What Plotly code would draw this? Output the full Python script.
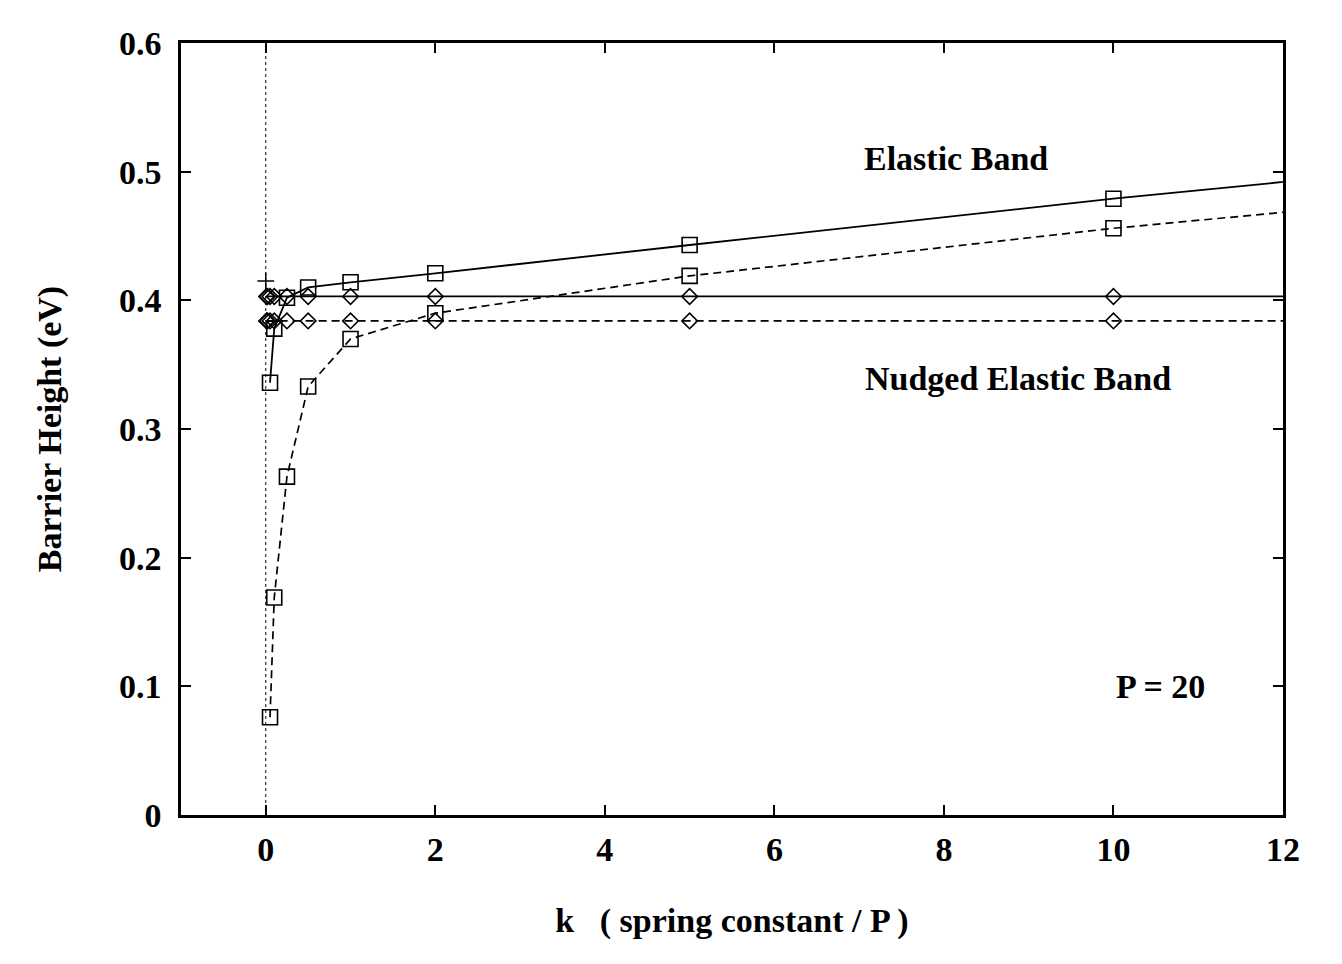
import plotly.graph_objects as go

# spring constant k (per image P) and barrier heights in eV
k_sq = [0.05, 0.1, 0.25, 0.5, 1, 2, 5, 10, 20]
eb_solid = [0.336, 0.378, 0.402, 0.410, 0.414, 0.421, 0.443, 0.479, 0.544]
eb_dashed = [0.076, 0.169, 0.263, 0.333, 0.370, 0.390, 0.419, 0.456, 0.518]

k_dm = [0.01, 0.02, 0.05, 0.1, 0.25, 0.5, 1, 2, 5, 10, 20]
neb_solid = [0.403, 0.403, 0.403, 0.403, 0.403, 0.403, 0.403, 0.403, 0.403, 0.403, 0.403]
neb_dashed = [0.384, 0.384, 0.384, 0.384, 0.384, 0.384, 0.384, 0.384, 0.384, 0.384, 0.384]

k_plus = [0.0]
plus_val = [0.415]

serif = "Liberation Serif"
dash = "8px,5px"

fig = go.Figure()

fig.add_trace(go.Scatter(x=k_sq, y=eb_solid, mode="lines+markers",
                         line=dict(color="black", width=1.8),
                         marker=dict(symbol="square-open", size=15, color="black",
                                     line=dict(width=1.6))))
fig.add_trace(go.Scatter(x=k_sq, y=eb_dashed, mode="lines+markers",
                         line=dict(color="black", width=1.7, dash=dash),
                         marker=dict(symbol="square-open", size=15, color="black",
                                     line=dict(width=1.6))))
fig.add_trace(go.Scatter(x=k_dm, y=neb_solid, mode="lines+markers",
                         line=dict(color="black", width=1.8),
                         marker=dict(symbol="diamond-open", size=12, color="black",
                                     line=dict(width=1.6))))
fig.add_trace(go.Scatter(x=k_dm, y=neb_dashed, mode="lines+markers",
                         line=dict(color="black", width=1.7, dash=dash),
                         marker=dict(symbol="diamond-open", size=12, color="black",
                                     line=dict(width=1.6))))
fig.add_trace(go.Scatter(x=k_plus, y=plus_val, mode="markers",
                         marker=dict(symbol="cross-thin-open", size=12, color="black",
                                     line=dict(width=1.5, color="black"))))

# dotted zero line
fig.add_shape(type="line", x0=0, x1=0, y0=0, y1=1, xref="x", yref="paper",
              line=dict(color="black", width=1, dash="dot"), layer="below")

lbl = dict(family=serif, size=34, color="black", weight="bold")
fig.add_annotation(x=8.14, y=0.5105, text="Elastic Band", showarrow=False, font=lbl)
fig.add_annotation(x=8.87, y=0.3395, text="Nudged Elastic Band", showarrow=False, font=lbl)
fig.add_annotation(x=10.56, y=0.0995, text="P = 20", showarrow=False, font=lbl)

axis_font = dict(family=serif, size=34, color="black", weight="bold")
fig.update_layout(
    width=1326, height=948,
    margin=dict(l=173, r=51, t=35, b=141),
    plot_bgcolor="white", paper_bgcolor="white",
    showlegend=False,
    font=dict(family=serif, color="black"),
)
fig.update_xaxes(range=[-1, 12], dtick=2, tick0=0, showgrid=False, zeroline=False,
                 showline=True, linecolor="black", linewidth=2.5, mirror="ticks",
                 ticks="inside", ticklen=10, tickwidth=2, tickcolor="black",
                 tickfont=axis_font, ticklabelstandoff=2,
                 title=dict(text="k   ( spring constant / P )", font=axis_font, standoff=42))
fig.update_yaxes(range=[0, 0.6], dtick=0.1, tick0=0, showgrid=False, zeroline=False,
                 showline=True, linecolor="black", linewidth=2.5, mirror="ticks",
                 ticks="inside", ticklen=10, tickwidth=2, tickcolor="black",
                 tickfont=axis_font, ticklabelstandoff=10,
                 title=dict(text="Barrier Height (eV)", font=axis_font, standoff=48))

fig.write_html("out.html")
